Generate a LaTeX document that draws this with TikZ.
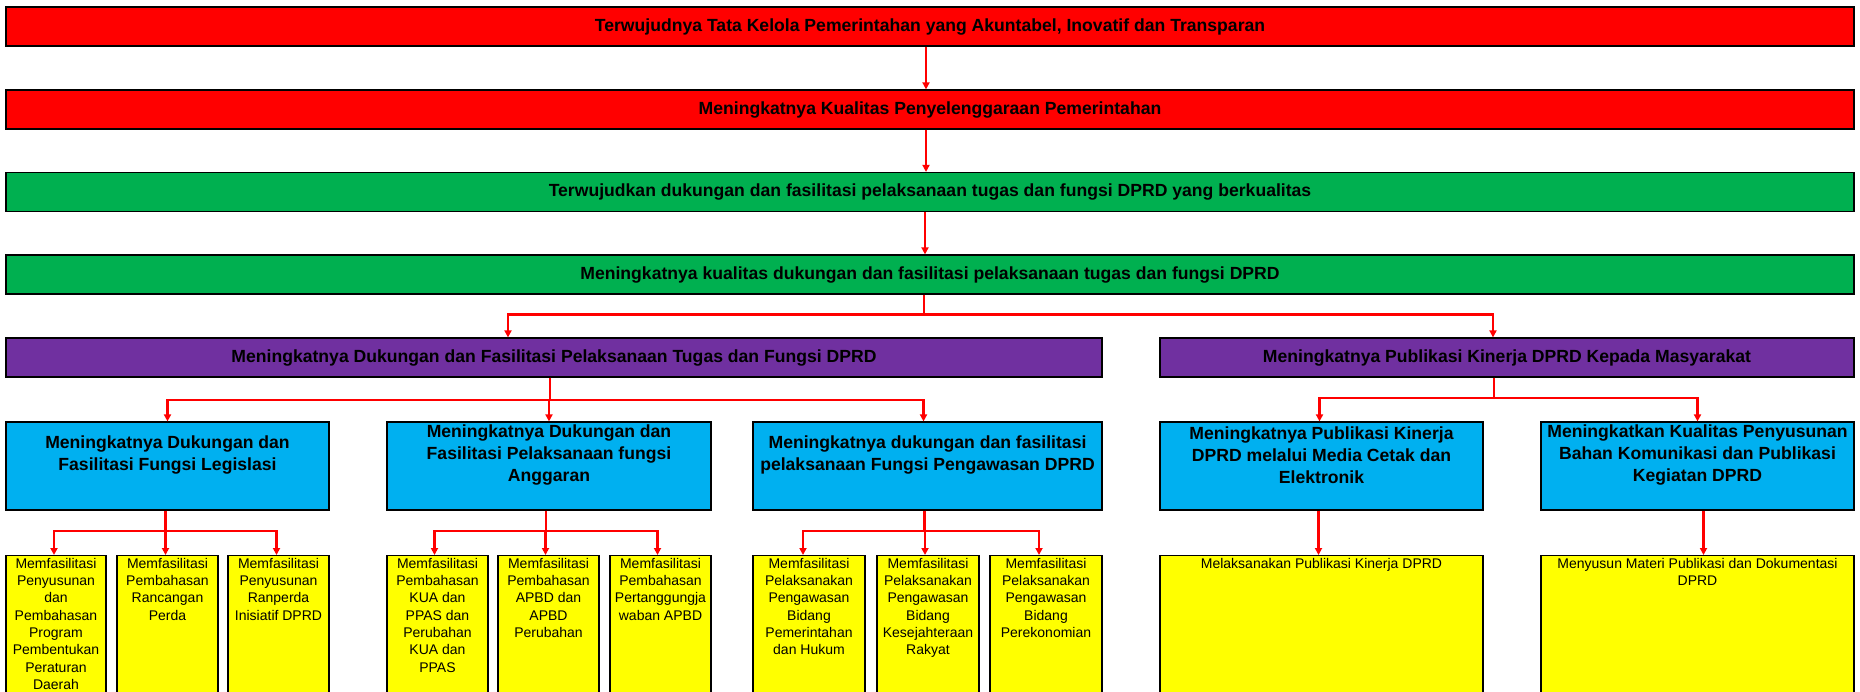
\documentclass[tikz,border=0pt]{standalone}
\usepackage{fontspec}
\setmainfont{Liberation Sans}
\usepackage{tikz}
\usetikzlibrary{arrows.meta}
\definecolor{xlred}{HTML}{FF0000}
\definecolor{xlgreen}{HTML}{00B050}
\definecolor{xlpurple}{HTML}{7030A0}
\definecolor{xlblue}{HTML}{00B0F0}
\definecolor{xlyellow}{HTML}{FFFF00}

\begin{document}
\begin{tikzpicture}[x=1pt, y=-1pt,
    box/.style={draw=black, line width=1.2pt, rectangle, inner sep=0pt},
    bar/.style={box, minimum width=#1, minimum height=39pt,
        font=\bfseries\fontsize{17.6}{22}\selectfont},
    bluebox/.style={box, fill=xlblue, minimum width=#1, minimum height=88pt},
    yellowbox/.style={box, fill=xlyellow, minimum width=#1, minimum height=165pt, anchor=north},
    bluetxt/.style={font=\bfseries\fontsize{17.6}{22}\selectfont, align=center, inner sep=0pt},
    yellowtxt/.style={font=\fontsize{14}{17.3}\selectfont, align=center, anchor=north, inner sep=0pt},
    link/.style={draw=red, line width=2.2pt, -{Triangle[length=7pt,width=7pt]}}]

    \useasboundingbox (0,0) rectangle (1860,692);

    % Tujuan dan sasaran (red / green)
    \node[bar=1848pt, fill=xlred] (r1) at (930,26.5)
        {Terwujudnya Tata Kelola Pemerintahan yang Akuntabel, Inovatif dan Transparan};
    \node[bar=1848pt, fill=xlred] (r2) at (930,109.5)
        {Meningkatnya Kualitas Penyelenggaraan Pemerintahan};
    \node[bar=1848pt, fill=xlgreen] (g1) at (930,192)
        {Terwujudkan dukungan dan fasilitasi pelaksanaan tugas dan fungsi DPRD yang berkualitas};
    \node[bar=1848pt, fill=xlgreen] (g2) at (930,274.5)
        {Meningkatnya kualitas dukungan dan fasilitasi pelaksanaan tugas dan fungsi DPRD};

    % Program (purple)
    \node[bar=1096pt, fill=xlpurple] (pL) at (554,357.5)
        {Meningkatnya Dukungan dan Fasilitasi Pelaksanaan Tugas dan Fungsi DPRD};
    \node[bar=694pt, fill=xlpurple] (pR) at (1507,357.5)
        {Meningkatnya Publikasi Kinerja DPRD Kepada Masyarakat};

    % Kegiatan (blue)
    \node[bluebox=323pt] (b1) at (167.5,466) {};
    \node[bluebox=324pt] (b2) at (549,466) {};
    \node[bluebox=349pt] (b3) at (927.5,466) {};
    \node[bluebox=323pt] (b4) at (1321.5,466) {};
    \node[bluebox=313pt] (b5) at (1697.5,466) {};

    \node[bluetxt] (b1t) at ([yshift=11pt]b1.center)
        {Meningkatnya Dukungan dan\\Fasilitasi Fungsi Legislasi};
    \node[bluetxt] (b2t) at ([yshift=11pt]b2.center)
        {Meningkatnya Dukungan dan\\Fasilitasi Pelaksanaan fungsi\\Anggaran};
    \node[bluetxt] (b3t) at ([yshift=11pt]b3.center)
        {Meningkatnya dukungan dan fasilitasi\\pelaksanaan Fungsi Pengawasan DPRD};
    \node[bluetxt] (b4t) at ([yshift=11pt]b4.center)
        {Meningkatnya Publikasi Kinerja\\DPRD melalui Media Cetak dan\\Elektronik};
    \node[bluetxt] (b5t) at ([yshift=11pt]b5.center)
        {Meningkatkan Kualitas Penyusunan\\Bahan Komunikasi dan Publikasi\\Kegiatan DPRD};

    % Sub kegiatan (yellow)
    \node[yellowbox=100pt] (y1) at (56,555) {};
    \node[yellowbox=101pt] (y2) at (167.5,555) {};
    \node[yellowbox=101pt] (y3) at (278.5,555) {};
    \node[yellowbox=101pt] (y4) at (437.5,555) {};
    \node[yellowbox=101pt] (y5) at (548.5,555) {};
    \node[yellowbox=101pt] (y6) at (660.5,555) {};
    \node[yellowbox=112pt] (y7) at (809,555) {};
    \node[yellowbox=102pt] (y8) at (928,555) {};
    \node[yellowbox=112pt] (y9) at (1046,555) {};
    \node[yellowbox=323pt] (y10) at (1321.5,555) {};
    \node[yellowbox=313pt] (y11) at (1697.5,555) {};

    \node[yellowtxt] (y1t) at ([yshift=-3pt]y1.north)
        {Memfasilitasi\\Penyusunan\\dan\\Pembahasan\\Program\\Pembentukan\\Peraturan\\Daerah};
    \node[yellowtxt] (y2t) at ([yshift=-3pt]y2.north)
        {Memfasilitasi\\Pembahasan\\Rancangan\\Perda};
    \node[yellowtxt] (y3t) at ([yshift=-3pt]y3.north)
        {Memfasilitasi\\Penyusunan\\Ranperda\\Inisiatif DPRD};
    \node[yellowtxt] (y4t) at ([yshift=-3pt]y4.north)
        {Memfasilitasi\\Pembahasan\\KUA dan\\PPAS dan\\Perubahan\\KUA dan\\PPAS};
    \node[yellowtxt] (y5t) at ([yshift=-3pt]y5.north)
        {Memfasilitasi\\Pembahasan\\APBD dan\\APBD\\Perubahan};
    \node[yellowtxt] (y6t) at ([yshift=-3pt]y6.north)
        {Memfasilitasi\\Pembahasan\\Pertanggungja\\waban APBD};
    \node[yellowtxt] (y7t) at ([yshift=-3pt]y7.north)
        {Memfasilitasi\\Pelaksanakan\\Pengawasan\\Bidang\\Pemerintahan\\dan Hukum};
    \node[yellowtxt] (y8t) at ([yshift=-3pt]y8.north)
        {Memfasilitasi\\Pelaksanakan\\Pengawasan\\Bidang\\Kesejahteraan\\Rakyat};
    \node[yellowtxt] (y9t) at ([yshift=-3pt]y9.north)
        {Memfasilitasi\\Pelaksanakan\\Pengawasan\\Bidang\\Perekonomian};
    \node[yellowtxt] (y10t) at ([yshift=-3pt]y10.north)
        {Melaksanakan Publikasi Kinerja DPRD};
    \node[yellowtxt] (y11t) at ([yshift=-3pt]y11.north)
        {Menyusun Materi Publikasi dan Dokumentasi\\DPRD};

    % Connectors
    \draw[link] ([xshift=-4pt]r1.south) -- ([xshift=-4pt]r2.north);
    \draw[link] ([xshift=-4pt]r2.south) -- ([xshift=-4pt]g1.north);
    \draw[link] ([xshift=-5pt]g1.south) -- ([xshift=-5pt]g2.north);

    \draw[link] ([xshift=-6pt]g2.south) -- ++(0,20) -| ([xshift=-46pt]pL.north);
    \draw[link] ([xshift=-6pt]g2.south) -- ++(0,20) -| ([xshift=-14pt]pR.north);

    \draw[link] ([xshift=-4pt]pL.south) -- ++(0,22) -| (b1.north);
    \draw[link] ([xshift=-4pt]pL.south) -- ++(0,22) -| (b2.north);
    \draw[link] ([xshift=-4pt]pL.south) -- ++(0,22) -| ([xshift=-4pt]b3.north);

    \draw[link] ([xshift=-13pt]pR.south) -- ++(0,20) -| ([xshift=-2pt]b4.north);
    \draw[link] ([xshift=-13pt]pR.south) -- ++(0,20) -| (b5.north);

    \draw[link] ([xshift=-2pt]b1.south) -- ++(0,20) -| ([xshift=-2pt]y1.north);
    \draw[link] ([xshift=-2pt]b1.south) -- ++(0,20) -| ([xshift=-2pt]y2.north);
    \draw[link] ([xshift=-2pt]b1.south) -- ++(0,20) -| ([xshift=-2pt]y3.north);

    \draw[link] ([xshift=-3pt]b2.south) -- ++(0,20) -| ([xshift=-3pt]y4.north);
    \draw[link] ([xshift=-3pt]b2.south) -- ++(0,20) -| ([xshift=-3pt]y5.north);
    \draw[link] ([xshift=-3pt]b2.south) -- ++(0,20) -| ([xshift=-3pt]y6.north);

    \draw[link] ([xshift=-3pt]b3.south) -- ++(0,20) -| ([xshift=-6pt]y7.north);
    \draw[link] ([xshift=-3pt]b3.south) -- ++(0,20) -| ([xshift=-3pt]y8.north);
    \draw[link] ([xshift=-3pt]b3.south) -- ++(0,20) -| ([xshift=-7pt]y9.north);

    \draw[link] ([xshift=-3pt]b4.south) -- ([xshift=-3pt]y10.north);
    \draw[link] ([xshift=6pt]b5.south) -- ([xshift=6pt]y11.north);

\end{tikzpicture}
\end{document}
